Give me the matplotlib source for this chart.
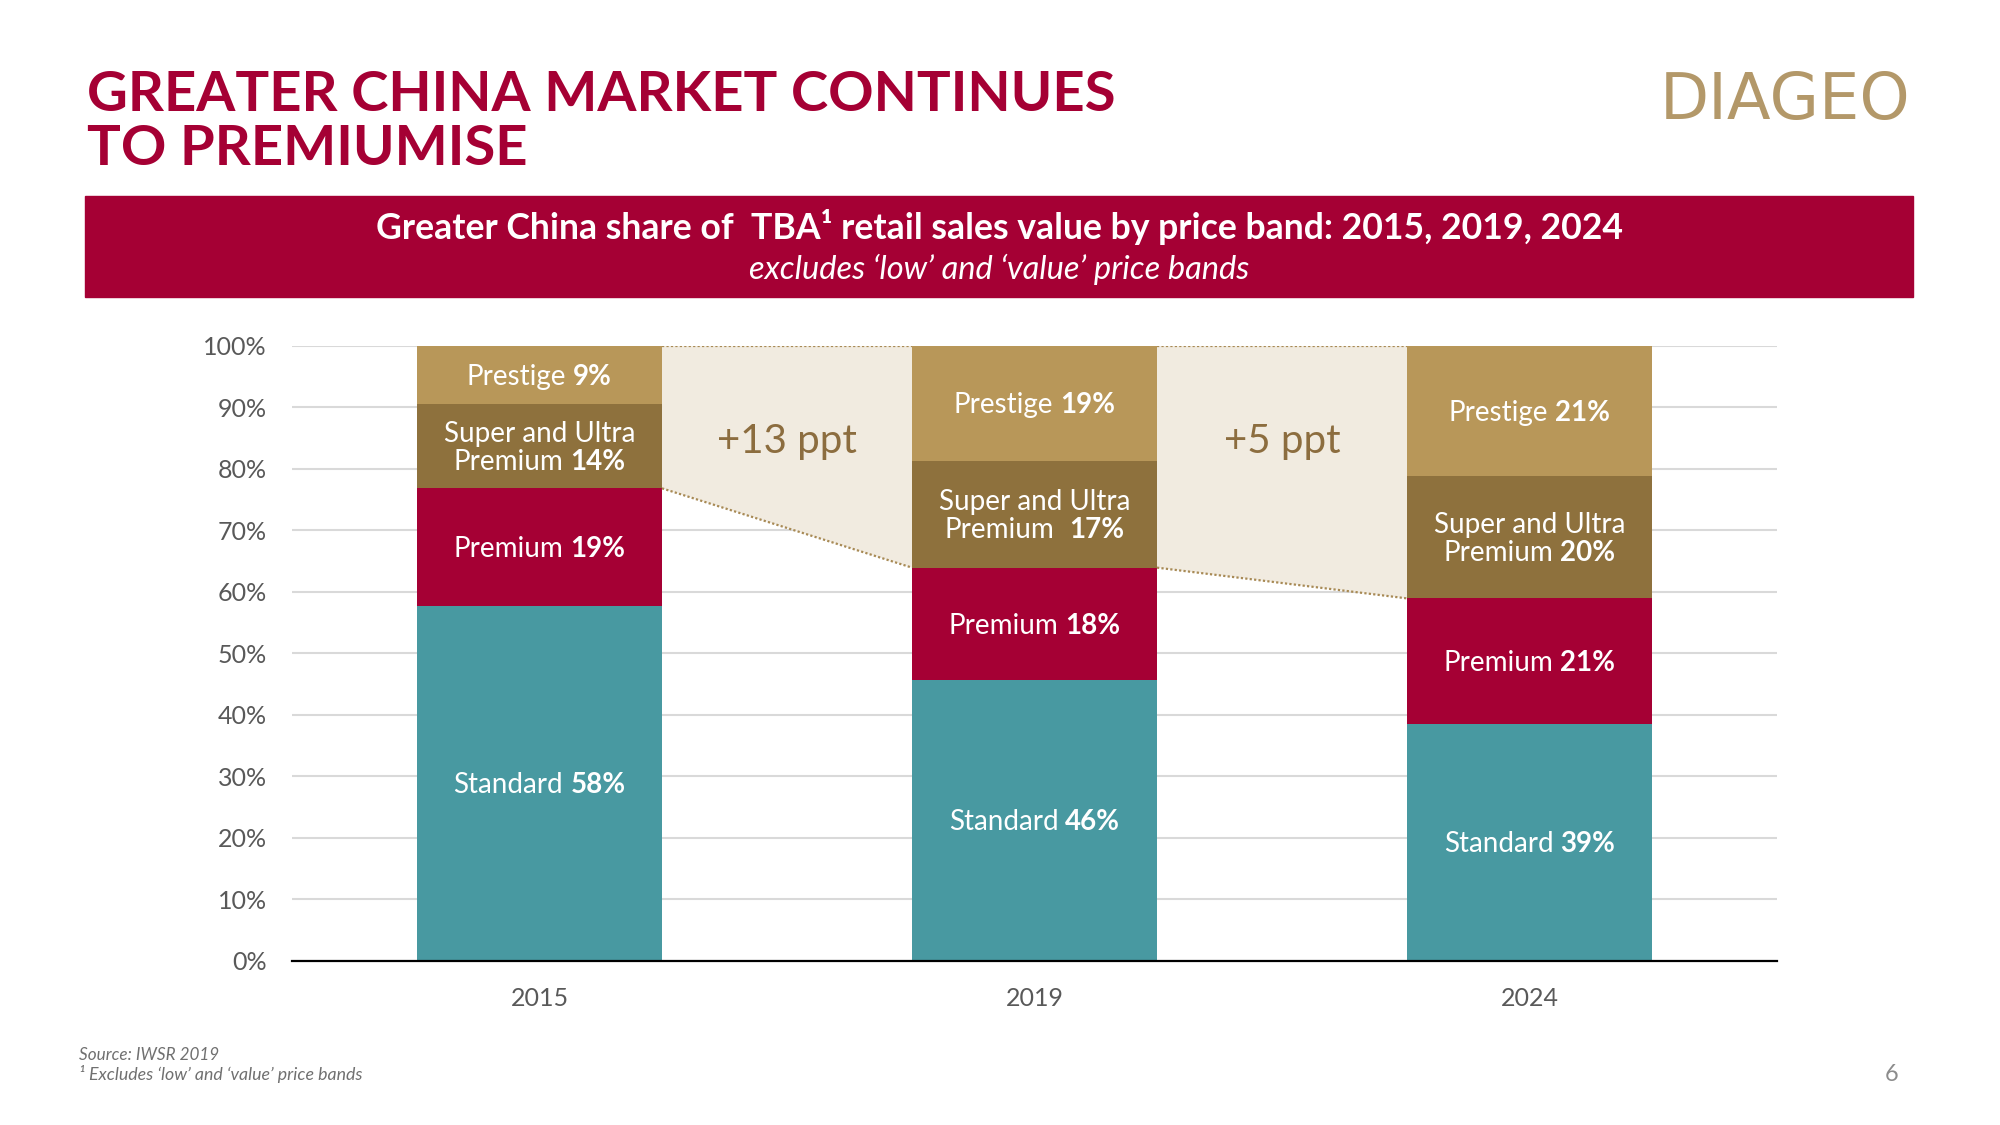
import matplotlib
matplotlib.use("Agg")
import matplotlib.pyplot as plt
from matplotlib.patches import Rectangle
import numpy as np

# ---------------- data ----------------
years = ["2015", "2019", "2024"]
bands = ["Standard", "Premium", "Super and Ultra\nPremium", "Prestige"]
# segment heights (% share)
standard = [57.7, 45.6, 38.4]
premium = [19.1, 18.3, 20.5]
super_ultra = [13.7, 17.4, 19.9]
prestige = [9.5, 18.7, 21.2]
# values printed on the bars
standard_lbl = [58, 46, 39]
premium_lbl = [19, 18, 21]
super_lbl = [14, 17, 20]
prestige_lbl = [9, 19, 21]
ppt_changes = ["+13 ppt", "+5 ppt"]
yticks = [0, 10, 20, 30, 40, 50, 60, 70, 80, 90, 100]

# ---------------- style ----------------
FONT = "Lato"
CRIMSON = "#A50034"
TEAL = "#4899A1"
TAN = "#B89759"
BROWN = "#8E713D"
BEIGE = "#F1EBE0"
DOT = "#A88A55"
GREY = "#595959"

plt.rcParams["font.family"] = [FONT, "DejaVu Sans"]

W, H, DPI = 2000, 1125, 100
fig = plt.figure(figsize=(W / DPI, H / DPI), dpi=DPI)
fig.patch.set_facecolor("white")

ax = fig.add_axes([292 / W, 1 - 960.5 / H, (1777 - 292) / W, (960.5 - 345.7) / H])
x = np.arange(len(years))
bw = 0.495

segs = [standard, premium, super_ultra, prestige]
cols = [TEAL, CRIMSON, BROWN, TAN]
bottoms = np.zeros(len(years))
cum = []
for vals, c in zip(segs, cols):
    ax.bar(x, vals, bw, bottom=bottoms, color=c, zorder=3, linewidth=0)
    bottoms = bottoms + np.array(vals)
    cum.append(bottoms.copy())

top_prem = cum[1]  # top of premium segment = bottom of super premium band
# shaded bridges between bars
for i in range(len(years) - 1):
    xl = x[i] + bw / 2
    xr = x[i + 1] - bw / 2
    ax.fill([xl, xr, xr, xl], [100, 100, top_prem[i + 1], top_prem[i]],
            color=BEIGE, zorder=2, linewidth=0)
    ax.plot([xl, xr], [top_prem[i], top_prem[i + 1]], ls=(0, (1, 1)),
            color=DOT, lw=1.6, zorder=4)
    ax.plot([xl, xr], [100, 100], ls=(0, (1, 1)), color=DOT, lw=1.6, zorder=4)
    ax.text((xl + xr) / 2, 84.4, ppt_changes[i], ha="center", va="center",
            fontsize=29, color="#8C6D3F", zorder=5)

ax.set_xlim(-0.5, 2.5)
ax.set_ylim(0, 100)
ax.set_yticks(yticks)
ax.set_yticklabels([f"{v}%" for v in yticks])
ax.set_xticks(x)
ax.set_xticklabels(years)
ax.tick_params(axis="both", length=0, labelsize=18, labelcolor=GREY)
ax.tick_params(axis="y", pad=18)
ax.tick_params(axis="x", pad=19)
ax.grid(axis="y", color="#D9D9D9", lw=1.5, zorder=0)
ax.set_axisbelow(True)
for s in ["top", "right", "left"]:
    ax.spines[s].set_visible(False)
ax.spines["bottom"].set_color("black")
ax.spines["bottom"].set_linewidth(1.6)
ax.spines["bottom"].set_zorder(6)

# --------- mixed weight labels ---------
fig.canvas.draw()
renderer = fig.canvas.get_renderer()


def text_w(s, size, weight):
    t = fig.text(0, 0, s, fontsize=size, fontweight=weight)
    w = t.get_window_extent(renderer).width
    t.remove()
    return w


LS = 20


def mixed(xd, yd, normal, bold, dy_px=0.0):
    sp = text_w("a a", LS, "normal") - text_w("aa", LS, "normal")
    nsp = len(normal) - len(normal.rstrip(" "))
    nt = normal.rstrip(" ")
    w1 = text_w(nt, LS, "normal")
    w2 = text_w(bold, LS, "bold")
    total = w1 + nsp * sp + w2
    start = -total / 2
    yoff = dy_px - LS * DPI / 72 * 0.36
    ax.annotate(nt, xy=(xd, yd), xycoords="data", xytext=(start, yoff),
                textcoords="offset pixels", ha="left", va="baseline",
                fontsize=LS, color="white", zorder=7)
    ax.annotate(bold, xy=(xd, yd), xycoords="data",
                xytext=(start + w1 + nsp * sp, yoff), textcoords="offset pixels",
                ha="left", va="baseline", fontsize=LS, fontweight="bold",
                color="white", zorder=7)


def plain(xd, yd, s, dy_px=0.0):
    ax.annotate(s, xy=(xd, yd), xycoords="data", xytext=(0, dy_px - LS * DPI / 72 * 0.36),
                textcoords="offset pixels", ha="center", va="baseline",
                fontsize=LS, color="white", zorder=7)


lbls = [standard_lbl, premium_lbl, super_lbl, prestige_lbl]
for i in range(len(years)):
    b = 0.0
    for k, (vals, lv) in enumerate(zip(segs, lbls)):
        mid = b + vals[i] / 2
        b += vals[i]
        if k == 2:
            plain(x[i], mid, "Super and Ultra", dy_px=14)
            sep = "Premium  " if i == 1 else "Premium "
            mixed(x[i], mid, sep, f"{lv[i]}%", dy_px=-14)
        else:
            mixed(x[i], mid, bands[k] + " ", f"{lv[i]}%")

# ---------------- header ----------------
fig.text(87 / W, 1 - 111 / H, "GREATER CHINA MARKET CONTINUES", fontsize=40.5,
         fontweight="bold", color=CRIMSON, ha="left", va="baseline")
fig.text(87 / W, 1 - 165 / H, "TO PREMIUMISE", fontsize=40.5,
         fontweight="bold", color=CRIMSON, ha="left", va="baseline")
fig.text(1785 / W, 1 - 119 / H, "DIAGEO", fontsize=46, color="#B39869",
         fontweight="normal", ha="center", va="baseline",
         family=["DejaVu Sans"])

fig.patches.append(Rectangle((85 / W, 1 - 297 / H), (1913 - 85) / W, (297 - 196) / H,
                             transform=fig.transFigure, color=CRIMSON, zorder=0))
fig.text(999 / W, 1 - 239 / H,
         "Greater China share of  TBA\u00b9 retail sales value by price band: 2015, 2019, 2024",
         fontsize=25.7, fontweight="bold", color="white", ha="center", va="baseline")
fig.text(999 / W, 1 - 279 / H, "excludes \u2018low\u2019 and \u2018value\u2019 price bands",
         fontsize=23.5, fontstyle="italic", color="white", ha="center", va="baseline")

# ---------------- footer ----------------
fig.text(79 / W, 1 - 1060 / H, "Source: IWSR 2019", fontsize=12.3, fontstyle="italic",
         color="#707070", ha="left", va="baseline")
fig.text(79 / W, 1 - 1080 / H, "\u00b9 Excludes \u2018low\u2019 and \u2018value\u2019 price bands",
         fontsize=12.8, fontstyle="italic", color="#707070", ha="left", va="baseline")
fig.text(1892 / W, 1 - 1081 / H, "6", fontsize=17, color="#8C8C8C",
         ha="center", va="baseline")

fig.savefig("out.png", dpi=DPI, facecolor="white")
